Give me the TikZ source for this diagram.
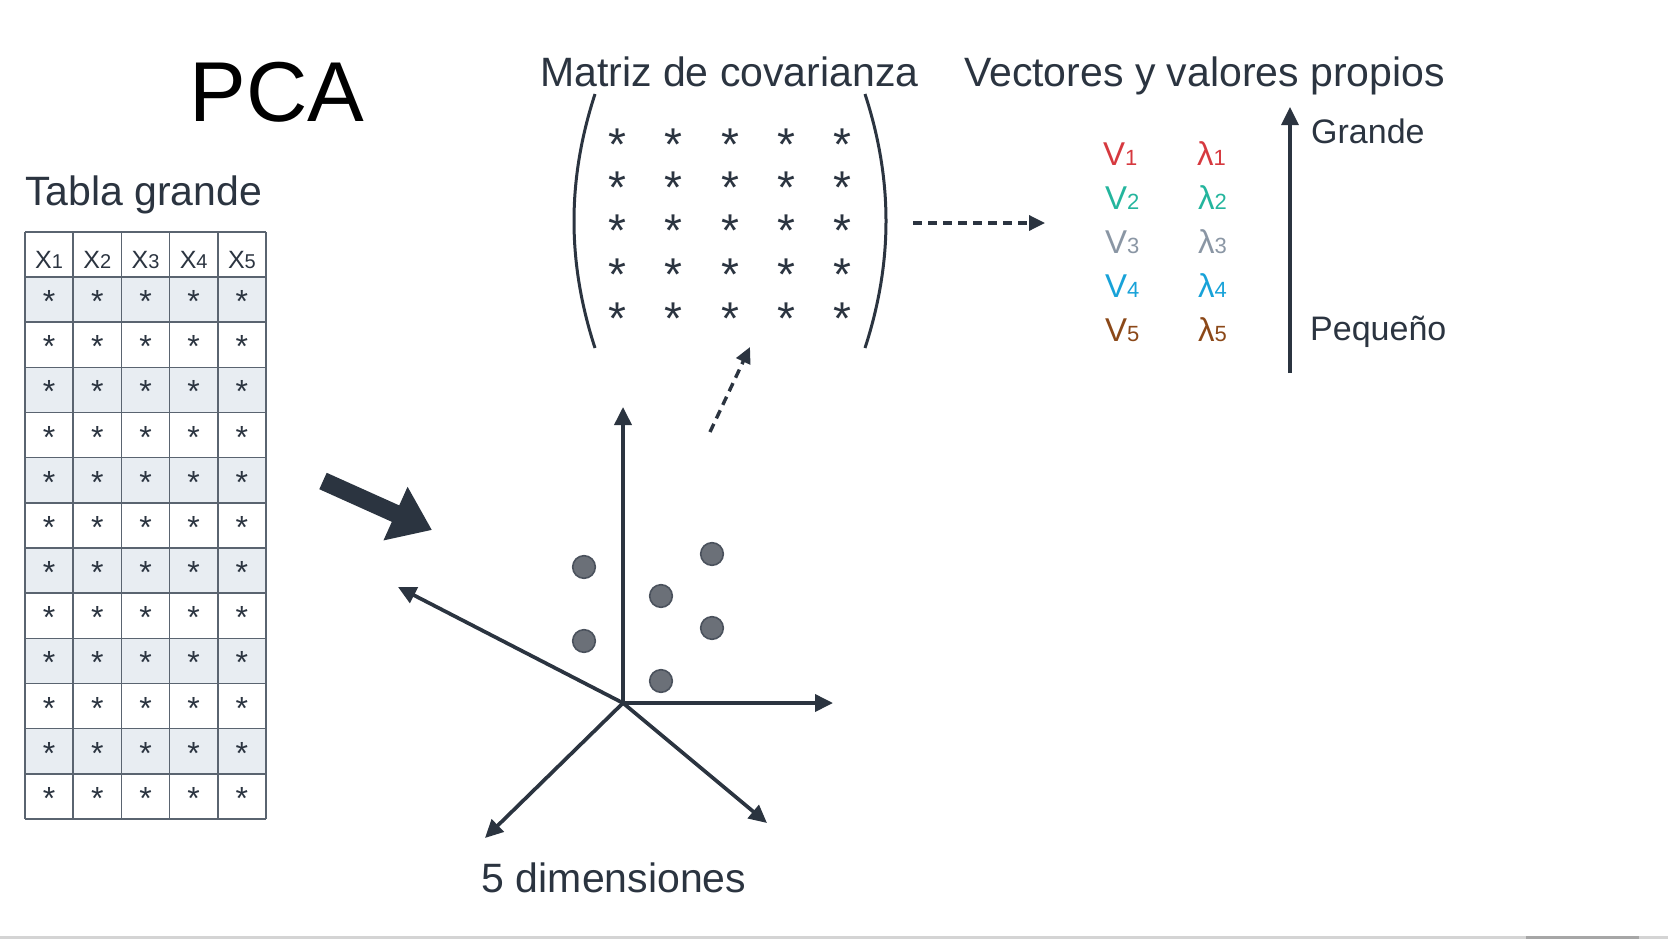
\documentclass[tikz,border=0pt]{standalone}
\usepackage{fontspec}
\setmainfont{Liberation Sans}
\usetikzlibrary{arrows.meta}
\definecolor{ink}{HTML}{2B3440}
\definecolor{stripe}{HTML}{E8EDF2}
\definecolor{cellline}{HTML}{5A6470}
\definecolor{dotfill}{HTML}{6B7078}
\definecolor{vone}{HTML}{D6393F}
\definecolor{vtwo}{HTML}{24B59D}
\definecolor{vthree}{HTML}{8A96A4}
\definecolor{vfour}{HTML}{18A2D8}
\definecolor{vfive}{HTML}{8B4818}
\newcommand{\fs}[1]{\fontsize{#1}{#1}\selectfont}
\tikzset{
  head/.style={anchor=base west, inner sep=0pt, text=ink, font=\fs{41}},
  side/.style={anchor=base west, inner sep=0pt, text=ink, font=\fs{34}},
  tstar/.style={anchor=base, inner sep=0pt, text=ink, font=\fs{32}},
  mstar/.style={anchor=base, inner sep=0pt, text=ink, font=\fs{46}},
  eig/.style={anchor=base west, inner sep=0pt, font=\fs{33}},
  dot/.style={circle, minimum size=22.6pt, inner sep=0pt, fill=dotfill, draw=ink!85, line width=1.6pt},
  axis/.style={draw=ink, line width=3.7pt, -{Triangle[length=18pt,width=17pt]}},
  dasharrow/.style={draw=ink, line width=3.4pt, dash pattern=on 9pt off 6pt, -{Triangle[length=16pt,width=15pt]}}
}
\begin{document}
\begin{tikzpicture}[x=1pt,y=-1pt]
\useasboundingbox (0,0) rectangle (1668,940);

%Title
\node[anchor=base, inner sep=0pt, font=\fs{85}] (pca) at (277,121) {PCA};

%Table
\node[head] (tabla) at (25,205) {Tabla grande};
\foreach \r in {1,3,...,11}
  \fill[stripe] (25,{277+(\r-1)*45.17}) rectangle (266,{277+\r*45.17});
\foreach \c in {0,...,5}
  \draw[cellline, line width=1.5pt] ({25+\c*48.2},232) -- ({25+\c*48.2},819);
\draw[cellline, line width=1.5pt] (25,232) -- (266,232);
\foreach \r in {0,...,12}
  \draw[cellline, line width=1.5pt] (25,{277+\r*45.17}) -- (266,{277+\r*45.17});
\foreach \c in {1,...,5}
  \node[anchor=base, inner sep=0pt, text=ink] (x\c) at ({25+(\c-0.5)*48.2},268) {\fs{25}X\fs{20}\c};
\foreach \r in {1,...,12}
  \foreach \c in {1,...,5}
    \node[tstar] (t-\r-\c) at ({25+(\c-0.5)*48.2},{277+(\r-0.5)*45.17+13}) {*};

%Big arrow
\coordinate (bigtail) at (323,481);
\coordinate (bighead) at (432,530);
\draw[ink, line width=18pt, -{Triangle[length=40pt,width=56pt]}] (bigtail) -- (bighead);

%Axes
\coordinate (o) at (623,703);
\coordinate (a1) at (623,407);
\coordinate (a2) at (833,703);
\coordinate (a3) at (767,823);
\coordinate (a4) at (485,838);
\coordinate (a5) at (398,587);
\foreach \a in {a1,a2,a3,a4,a5}
  \draw[axis] (o) -- (\a);
\node[anchor=base, inner sep=0pt, text=ink, font=\fs{41}] (dims) at (614,892) {5 dimensiones};

%Points
\node[dot] (p1) at (584,567) {};
\node[dot] (p2) at (584,641) {};
\node[dot] (p3) at (661,596) {};
\node[dot] (p4) at (661,681) {};
\node[dot] (p5) at (712,554) {};
\node[dot] (p6) at (712,628) {};

%Covariance matrix
\node[head] (cov) at (540,86) {Matriz de covarianza};
\draw[ink, line width=3pt] (595,94) .. controls (567,180) and (567,262) .. (595,348);
\draw[ink, line width=3pt] (865,94) .. controls (893,180) and (893,262) .. (865,348);
\foreach \r [count=\i] in {138,181,224,268,312}
  \foreach \c [count=\j] in {617,673,730,786,842}
    \node[mstar] (m-\i-\j) at (\c,\r+22) {*};
\coordinate (upfrom) at (710,432);
\coordinate (upto) at (750,347);
\draw[dasharrow] (upfrom) -- (upto);
\coordinate (rfrom) at (913,223);
\coordinate (rto) at (1045,223);
\draw[dasharrow] (rfrom) -- (rto);

%Eigen
\node[head] (vec) at (964,86) {Vectores y valores propios};
\node[eig, text=vone] (v1) at (1103,165) {V\fs{22}1};
\node[eig, text=vtwo] (v2) at (1105,209) {V\fs{22}2};
\node[eig, text=vthree] (v3) at (1105,253) {V\fs{22}3};
\node[eig, text=vfour] (v4) at (1105,297) {V\fs{22}4};
\node[eig, text=vfive] (v5) at (1105,341) {V\fs{22}5};
\node[eig, text=vone] (l1) at (1197,165) {λ\fs{22}1};
\node[eig, text=vtwo] (l2) at (1198,209) {λ\fs{22}2};
\node[eig, text=vthree] (l3) at (1198,253) {λ\fs{22}3};
\node[eig, text=vfour] (l4) at (1198,297) {λ\fs{22}4};
\node[eig, text=vfive] (l5) at (1198,341) {λ\fs{22}5};
\coordinate (small) at (1290,373);
\coordinate (big) at (1290,107);
\draw[axis, line width=3.2pt] (small) -- (big);
\node[side] (grande) at (1311,143) {Grande};
\node[side] (pequeno) at (1310,340) {Pequeño};

%Bar
\fill[black!17] (0,936) rectangle (1668,939);
\fill[black!35] (1526,936) rectangle (1639,939);
\end{tikzpicture}
\end{document}
